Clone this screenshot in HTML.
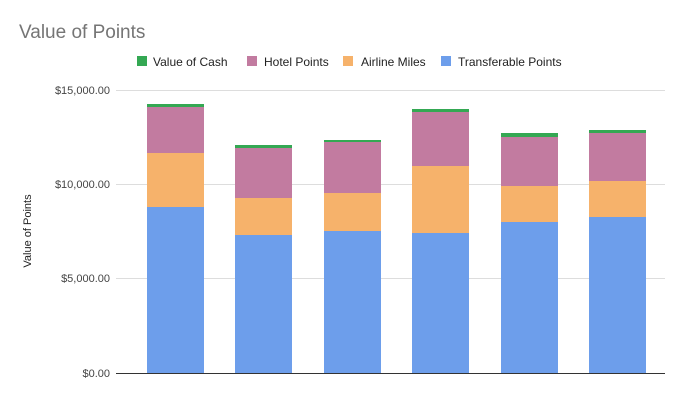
<!DOCTYPE html>
<html><head><style>
body{margin:0;background:#fff;}
svg{display:block;font-family:"Liberation Sans",Arial,sans-serif;}
</style></head><body>
<svg width="698" height="400" xmlns="http://www.w3.org/2000/svg">
<rect width="698" height="400" fill="#fff"/>
<text x="19" y="38" font-size="19" fill="#757575">Value of Points</text>
<g font-size="12" fill="#222">
<rect x="137" y="56" width="10" height="10" fill="#34a853"/><text x="153" y="66">Value of Cash</text>
<rect x="247" y="56" width="10" height="10" fill="#c27ba0"/><text x="264" y="66">Hotel Points</text>
<rect x="343" y="56" width="10" height="10" fill="#f6b26b"/><text x="361" y="66">Airline Miles</text>
<rect x="441" y="56" width="10" height="10" fill="#6d9eeb"/><text x="458" y="66">Transferable Points</text>
</g>
<g stroke="#ddd" stroke-width="1">
<line x1="116" x2="665" y1="90.5" y2="90.5"/>
<line x1="116" x2="665" y1="184.5" y2="184.5"/>
<line x1="116" x2="665" y1="278.5" y2="278.5"/>
</g>
<g font-size="11" fill="#444" text-anchor="end">
<text x="110" y="94">$15,000.00</text>
<text x="110" y="188">$10,000.00</text>
<text x="110" y="282">$5,000.00</text>
<text x="110" y="377">$0.00</text>
</g>
<text transform="translate(31,231) rotate(-90)" font-size="11" fill="#222" text-anchor="middle">Value of Points</text>
<g>
<!-- bar1 -->
<rect x="147" y="104" width="57" height="3" fill="#34a853"/>
<rect x="147" y="107" width="57" height="46" fill="#c27ba0"/>
<rect x="147" y="153" width="57" height="54" fill="#f6b26b"/>
<rect x="147" y="207" width="57" height="166" fill="#6d9eeb"/>
<!-- bar2 -->
<rect x="235" y="145" width="57" height="3" fill="#34a853"/>
<rect x="235" y="148" width="57" height="50" fill="#c27ba0"/>
<rect x="235" y="198" width="57" height="37" fill="#f6b26b"/>
<rect x="235" y="235" width="57" height="138" fill="#6d9eeb"/>
<!-- bar3 -->
<rect x="324" y="140" width="57" height="2" fill="#34a853"/>
<rect x="324" y="142" width="57" height="51" fill="#c27ba0"/>
<rect x="324" y="193" width="57" height="38" fill="#f6b26b"/>
<rect x="324" y="231" width="57" height="142" fill="#6d9eeb"/>
<!-- bar4 -->
<rect x="412" y="109" width="57" height="3" fill="#34a853"/>
<rect x="412" y="112" width="57" height="54" fill="#c27ba0"/>
<rect x="412" y="166" width="57" height="67" fill="#f6b26b"/>
<rect x="412" y="233" width="57" height="140" fill="#6d9eeb"/>
<!-- bar5 -->
<rect x="501" y="133" width="57" height="4" fill="#34a853"/>
<rect x="501" y="137" width="57" height="49" fill="#c27ba0"/>
<rect x="501" y="186" width="57" height="36" fill="#f6b26b"/>
<rect x="501" y="222" width="57" height="151" fill="#6d9eeb"/>
<!-- bar6 -->
<rect x="589" y="130" width="57" height="3" fill="#34a853"/>
<rect x="589" y="133" width="57" height="48" fill="#c27ba0"/>
<rect x="589" y="181" width="57" height="36" fill="#f6b26b"/>
<rect x="589" y="217" width="57" height="156" fill="#6d9eeb"/>
</g>
<line x1="116" x2="665" y1="373.5" y2="373.5" stroke="#333" stroke-width="1"/>
</svg>
</body></html>
